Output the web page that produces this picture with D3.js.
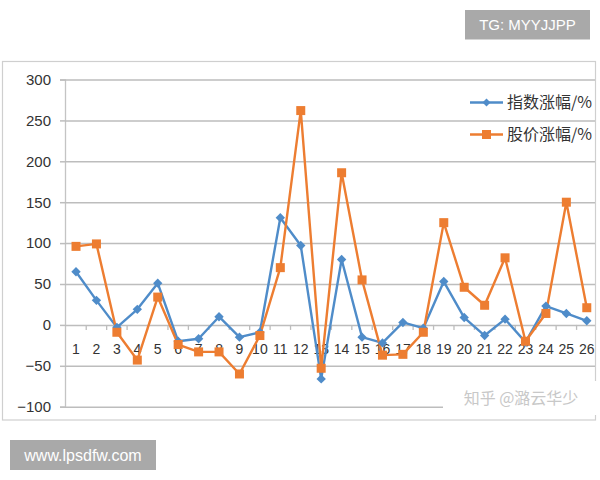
<!DOCTYPE html>
<html>
<head>
<meta charset="utf-8">
<script src="https://cdn.jsdelivr.net/npm/d3@7"></script>
<style>
  html, body { margin: 0; padding: 0; background: #fff; }
  svg { display: block; }
</style>
</head>
<body>
<script>
const Categorias = d3.range(1, 27).map(String);
const SerieNombres = ['指数涨幅/%', '股价涨幅/%'];
const IndiceValores = [65, 30, -3, 19, 51, -20, -17, 10, -15, -9, 131, 97, -66, 80, -15, -22, 3, -4, 53, 9, -13, 7, -21, 23, 14, 5];
const AccionValores = [96, 99, -9, -43, 34, -24, -33, -33, -60, -13, 70, 262, -53, 186, 55, -37, -36, -9, 125, 46, 24, 82, -20, 14, 150, 21];
const TicksY = [-100, -50, 0, 50, 100, 150, 200, 250, 300];

function draw () {
    const width  = 600;
    const height = 480;
    const azul = '#4f8cc9';
    const naranja = '#ed7d31';
    const fuente = '"Liberation Sans", Arial, sans-serif';
    const fuenteCJK = '"Noto Sans CJK SC", sans-serif';

    const svg = d3.select('body').append('svg')
        .attr('width', width)
        .attr('height', height);

    // marco del grafico
    svg.append('rect')
        .attr('x', 2.5).attr('y', 61.5)
        .attr('width', 593).attr('height', 358.5)
        .attr('fill', '#fff')
        .attr('stroke', '#cfcfcf')
        .attr('stroke-width', 1.2);

    const X = d3.scaleBand()
        .domain(Categorias)
        .range([65.8, 597]);

    const Y = d3.scaleLinear()
        .domain([-100, 300])
        .range([406.7, 79.5]);

    const y_axis = d3.axisLeft(Y)
        .tickValues(TicksY)
        .tickSize(5)
        .tickPadding(9);

    svg.append('g')
        .attr('transform', 'translate(65 0)')
        .call(y_axis)
        .call(g => g.select('.domain').attr('stroke', '#c4c4c4').attr('stroke-width', 1.3))
        .call(g => g.selectAll('.tick line').attr('stroke', '#bdbdbd').attr('stroke-width', 1.5))
        .call(g => g.selectAll('.tick line').clone()
            .attr('x1', 0)
            .attr('x2', 530))
        .call(g => g.selectAll('.tick text')
            .attr('fill', '#333')
            .style('font-family', fuente)
            .style('font-size', '15px'));

    // eje de categorias sobre el cero
    const x_axis = d3.axisBottom(X)
        .tickSize(0)
        .tickPadding(19);

    svg.append('g')
        .attr('transform', `translate(0 ${Y(0)})`)
        .call(x_axis)
        .call(g => g.select('.domain').remove())
        .call(g => g.selectAll('.tick text')
            .attr('fill', '#333')
            .style('font-family', fuente)
            .style('font-size', '14px'));

    svg.append('g')
        .selectAll('line')
        .data(Categorias.slice(1))
        .join('line')
        .attr('x1', d => X(d))
        .attr('x2', d => X(d))
        .attr('y1', Y(0))
        .attr('y2', Y(0) + 5)
        .attr('stroke', '#bdbdbd')
        .attr('stroke-width', 1.3);

    const linea = d3.line()
        .x((d, i) => X(Categorias[i]) + X.bandwidth() / 2)
        .y(d => Y(d));

    svg.append('path')
        .attr('d', linea(IndiceValores))
        .attr('fill', 'none')
        .attr('stroke', azul)
        .attr('stroke-width', 2.4)
        .attr('stroke-linejoin', 'round');

    svg.append('path')
        .attr('d', linea(AccionValores))
        .attr('fill', 'none')
        .attr('stroke', naranja)
        .attr('stroke-width', 2.4)
        .attr('stroke-linejoin', 'round');

    svg.append('g')
        .selectAll('path')
        .data(IndiceValores)
        .join('path')
        .attr('d', d3.symbol(d3.symbolDiamond2, 56))
        .attr('transform', (d, i) => `translate(${X(Categorias[i]) + X.bandwidth() / 2} ${Y(d)})`)
        .attr('fill', azul);

    svg.append('g')
        .selectAll('rect')
        .data(AccionValores)
        .join('rect')
        .attr('x', (d, i) => X(Categorias[i]) + X.bandwidth() / 2 - 4.5)
        .attr('y', d => Y(d) - 4.5)
        .attr('width', 9)
        .attr('height', 9)
        .attr('fill', naranja);

    // leyenda
    const leyenda = svg.append('g').attr('transform', 'translate(470 102.5)');
    [azul, naranja].forEach((c, i) => {
        const fila = leyenda.append('g').attr('transform', `translate(0 ${i * 32})`);
        fila.append('line')
            .attr('x1', 0).attr('x2', 33)
            .attr('stroke', c).attr('stroke-width', 2.4);
        if (i === 0) {
            fila.append('path')
                .attr('d', d3.symbol(d3.symbolDiamond2, 40))
                .attr('transform', 'translate(16.5 0)')
                .attr('fill', c);
        } else {
            fila.append('rect')
                .attr('x', 12).attr('y', -4.5)
                .attr('width', 9).attr('height', 9)
                .attr('fill', c);
        }
        fila.append('text')
            .attr('x', 37).attr('y', 0)
            .attr('dy', '0.35em')
            .attr('fill', '#333')
            .style('font-family', fuenteCJK)
            .style('font-size', '16px')
            .text(SerieNombres[i]);
    });

    // marcas de agua
    svg.append('rect')
        .attr('x', 443).attr('y', 381)
        .attr('width', 157).attr('height', 34)
        .attr('fill', '#fff');
    svg.append('text')
        .attr('x', 521).attr('y', 398)
        .attr('dy', '0.35em')
        .attr('text-anchor', 'middle')
        .attr('fill', '#c8c8c8')
        .style('font-family', fuenteCJK)
        .style('font-size', '16px')
        .text('知乎 @潞云华少');

    svg.append('rect')
        .attr('x', 465).attr('y', 10)
        .attr('width', 125).attr('height', 29.5)
        .attr('fill', '#a9a9a9');
    svg.append('text')
        .attr('x', 527.5).attr('y', 25)
        .attr('dy', '0.35em')
        .attr('text-anchor', 'middle')
        .attr('fill', '#fff')
        .style('font-family', fuente)
        .style('font-size', '15px')
        .text('TG: MYYJJPP');

    svg.append('rect')
        .attr('x', 10).attr('y', 440)
        .attr('width', 146).attr('height', 30)
        .attr('fill', '#a9a9a9');
    svg.append('text')
        .attr('x', 83).attr('y', 455)
        .attr('dy', '0.35em')
        .attr('text-anchor', 'middle')
        .attr('fill', '#fff')
        .style('font-family', fuente)
        .style('font-size', '16px')
        .text('www.lpsdfw.com');
}

draw();
</script>
</body>
</html>
